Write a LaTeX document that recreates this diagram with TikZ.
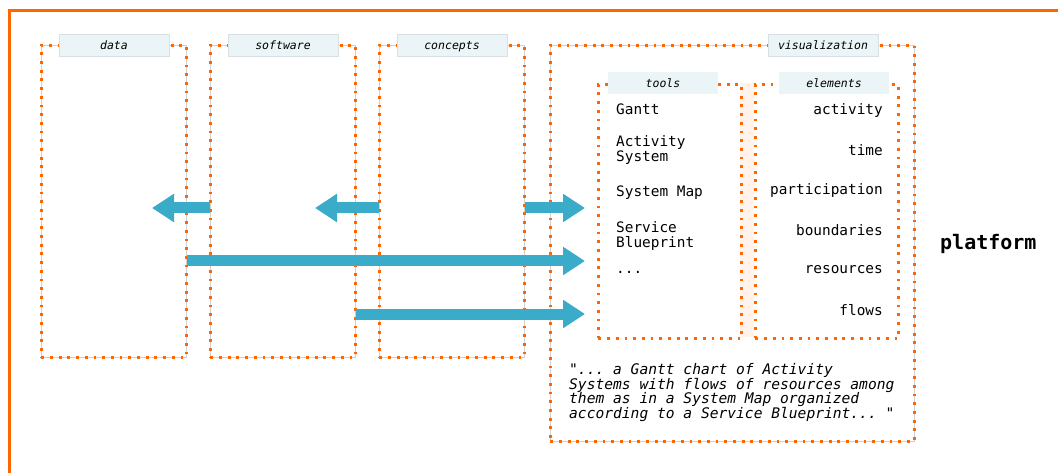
\documentclass[tikz,border=0pt]{standalone}
\usepackage{fontspec}
\setmonofont{DejaVu Sans Mono}
\usetikzlibrary{arrows.meta}
\definecolor{orng}{HTML}{FF6600}
\definecolor{arrowblue}{HTML}{3AABC8}
\definecolor{tabfill}{HTML}{EBF4F7}
\definecolor{tabline}{HTML}{D9DFE2}
\definecolor{pinkstrip}{HTML}{FFF3EC}
\definecolor{ghost}{HTML}{D0D0D0}
\begin{document}
\begin{tikzpicture}[x=1pt,y=-1pt,
  dotbox/.style={draw=ghost, line width=0.7pt, inner sep=0pt, anchor=north west,
    postaction={draw=orng, line width=2.8pt, dash pattern=on 2.8pt off 5.9pt}},
  subbox/.style={draw=orng, line width=2.8pt, dash pattern=on 2.8pt off 5.9pt, inner sep=0pt, anchor=north west},
  tabbase/.style={fill=tabfill, minimum width=110pt, minimum height=22pt, inner sep=0pt,
    text height=10pt, text depth=0pt, font=\ttfamily\itshape\fontsize{11.5}{12}\selectfont},
  toptab/.style={tabbase, draw=tabline, line width=0.4pt},
  subtab/.style={tabbase},
  item/.style={font=\ttfamily\fontsize{14.4}{15}\selectfont, inner sep=0pt, align=left},
  elem/.style={font=\ttfamily\fontsize{14.4}{15}\selectfont, inner sep=0pt, anchor=base east},
  bigarrow/.style={draw=arrowblue, line width=11pt, -{Triangle[length=22pt,width=27pt]}}]
\useasboundingbox (0,0) rectangle (1058,473);
% outer frame
\draw[orng, line width=2.8pt] (9.5,490) -- (9.5,10.7) -- (1070,10.7);

% light strip between tools and elements
\fill[pinkstrip] (740,83) rectangle (754,337);

% top-level boxes
\node[dotbox, minimum width=145pt, minimum height=312pt] (data) at (41,45) {};
\node[dotbox, minimum width=145pt, minimum height=312pt] (software) at (210,45) {};
\node[dotbox, minimum width=145pt, minimum height=312pt] (concepts) at (379,45) {};
\node[dotbox, minimum width=364pt, minimum height=396pt] (visualization) at (550,45) {};

% nested boxes
\node[subbox, minimum width=143pt, minimum height=254pt] (tools) at (597,83) {};
\node[subbox, minimum width=143pt, minimum height=254pt] (elements) at (754,83) {};

% tabs
\node[toptab] (datatab) at (114,45) {data};
\node[toptab] (softwaretab) at (283,45) {software};
\node[toptab] (conceptstab) at (452,45) {concepts};
\node[toptab] (vistab) at (823,45) {visualization};
\node[subtab] (toolstab) at (663,83) {tools};
\node[subtab] (elementstab) at (834,83) {elements};

% tools items (base anchor of a multi-line node is its last line)
\node[item, anchor=base west] (gantt) at (616,114.5) {Gantt};
\node[item, anchor=base west] (actsys) at (616,161.5) {Activity\\System};
\node[item, anchor=base west] (sysmap) at (616,197) {System Map};
\node[item, anchor=base west] (blueprint) at (616,247.5) {Service\\Blueprint};
\node[item, anchor=base west] (more) at (616,273) {...};

% elements items
\node[elem] (activity) at (883,115) {activity};
\node[elem] (time) at (883,156) {time};
\node[elem] (participation) at (883,194.5) {participation};
\node[elem] (boundaries) at (883,235.5) {boundaries};
\node[elem] (resources) at (883,274) {resources};
\node[elem] (flows) at (883,315) {flows};

% quote
\node[anchor=base west, inner sep=0pt, align=left,
  font=\ttfamily\itshape\fontsize{14.6}{14.6}\selectfont] (quote) at (569,418.3)
  {"... a Gantt chart of Activity\\Systems with flows of resources among\\them as in a System Map organized\\according to a Service Blueprint... "};

% platform
\node[anchor=base west, inner sep=0pt, font=\ttfamily\bfseries\fontsize{20}{24}\selectfont] (platform) at (940,250) {platform};

% arrows
\coordinate (t1) at (152,208);
\coordinate (t2) at (315,208);
\coordinate (t3) at (585,208);
\coordinate (t4) at (585,261);
\coordinate (t5) at (585,314);
\draw[bigarrow] (software.west |- t1) -- (t1);
\draw[bigarrow] (concepts.west |- t2) -- (t2);
\draw[bigarrow] (concepts.east |- t3) -- (t3);
\draw[bigarrow] (data.east |- t4) -- (t4);
\draw[bigarrow] (software.east |- t5) -- (t5);
\end{tikzpicture}
\end{document}
